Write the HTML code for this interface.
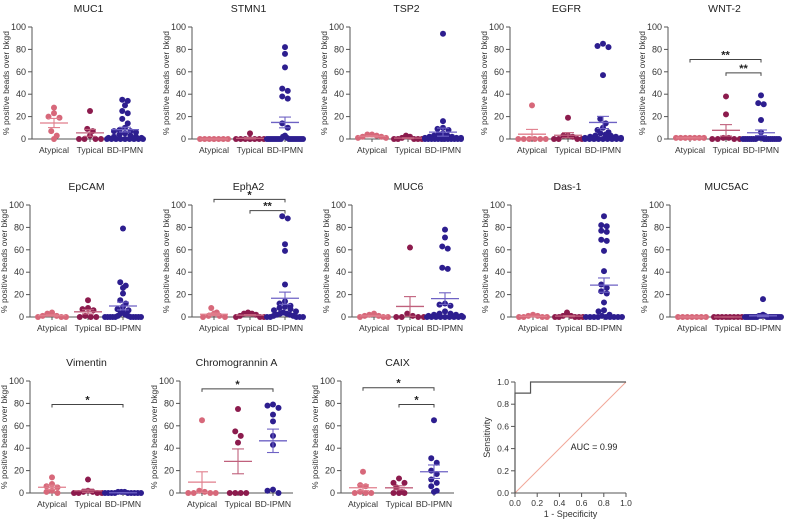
<!DOCTYPE html>
<html><head><meta charset="utf-8">
<style>
html,body{margin:0;padding:0;background:#fff;}
svg{display:block;font-family:"Liberation Sans",sans-serif;}
</style></head>
<body>
<svg id="fig" width="792" height="525" viewBox="0 0 792 525"></svg>
<script>
const categories = ["Atypical","Typical","BD-IPMN"];
const panelTitles = ["MUC1","STMN1","TSP2","EGFR","WNT-2","EpCAM","EphA2","MUC6","Das-1","MUC5AC","Vimentin","Chromogrannin A","CAIX"];
const atypicalVals = [
 [28,23,20,19,7,3,0],
 [0,0,0,0,0,0,0],
 [4,4,3,2,2,1,1],
 [30,0,0,0,0,0,0],
 [1,1,1,1,1,1,1],
 [4,3,1,1,0,0,0],
 [8,4,3,1,1,0,0],
 [3,2,1,1,0,0,0],
 [2,1,1,0,0,0,0],
 [0,0,0,0,0,0,0],
 [14,8,6,5,2,1,0],
 [65,2,1,0,0,0,0],
 [19,7,6,1,0,0,0]
];
const typicalVals = [
 [25,9,7,3,0,0,0,0],
 [5,0,0,0,0,0,0,0],
 [3,2,1,0,0,0,0,0],
 [19,3,3,2,0,0,0,0],
 [38,22,1,1,0,0,0,0],
 [15,8,7,6,1,0,0,0],
 [4,3,3,2,1,0,0,0],
 [62,3,1,0,0,0,0],
 [4,1,1,0,0,0,0,0],
 [0,0,0,0,0,0,0,0],
 [12,2,1,1,0,0,0,0],
 [75,55,51,45,0,0,0,0],
 [13,9,9,5,1,0,0,0]
];
const bdVals = [
 [35,34,30,25,23,18,14,10,8,7,7,6,5,4,3,2,2,1,1,0,0,0,0,0,0,0,0,0],
 [82,76,64,45,43,38,36,14,10,3,2,1,0,0,0,0,0,0,0,0,0,0,0,0,0,0,0,0],
 [94,16,10,9,8,5,4,3,3,2,2,1,1,1,0,0,0,0,0,0,0,0,0,0,0,0],
 [85,83,82,57,18,14,10,8,6,5,4,3,3,2,2,1,1,0,0,0,0,0,0,0,0,0],
 [39,32,31,17,6,1,1,1,0,0,0,0,0,0,0,0,0,0,0,0,0,0,0],
 [79,31,28,26,21,15,12,9,7,6,4,3,2,1,1,0,0,0,0,0,0,0,0,0,0],
 [90,88,65,59,29,14,12,10,9,8,7,6,5,4,3,3,2,2,1,1,0,0,0,0,0],
 [78,71,63,61,44,43,12,11,10,5,3,3,2,2,1,1,0,0,0,0,0,0,0,0,0],
 [90,82,81,77,76,69,68,59,41,29,26,23,21,13,6,5,2,1,0,0,0,0,0,0,0,0,0],
 [16,2,1,1,1,0,0,0,0,0,0,0,0,0,0,0,0,0,0,0],
 [1,1,1,0,0,0,0,0,0,0,0,0],
 [79,78,76,70,64,51,43,3,2,0],
 [65,31,27,20,17,12,9,6,2,1]
];
const sigPanel = [4,4,6,6,10,11,12,12];
const sigFrom  = [0,1,0,1,0,0,0,1];
const sigY     = [71,59,105,95,79,93,94,79];
const sigLabel = ["**","**","*","**","*","*","*","*"];
const yTicks = [0,20,40,60,80,100];
const rocFpr = [0,0,0.14,0.14,1];
const rocTpr = [0,0.9,0.9,1,1];
const rocTicks = [0,0.2,0.4,0.6,0.8,1.0];
const aucText = "AUC =  0.99";

const NS="http://www.w3.org/2000/svg";
const svg=document.getElementById('fig');
function el(tag,attrs,parent,text){const e=document.createElementNS(NS,tag);for(const k in attrs)e.setAttribute(k,attrs[k]);if(text!==undefined)e.textContent=text;(parent||svg).appendChild(e);return e;}
const colors=["#d7687a","#8c1b4d","#2d1e8f"];
const meanColors=["#e07e8c","#c0607c","#6e62c4"];
const axisX=[[32,192,350,510,668],[30,192,352,511,670],[30,180,341]];
const rowTop=[27,205,381], rowBot=[139,317,493];
const W=113;
const catOff=[22,58,93];

function beeswarm(vals,cx,yfn,cap){
  const order=vals.map((v,i)=>i).sort((a,b)=>vals[b]-vals[a]);
  const bins=[];
  for(const i of order){
    const y=yfn(vals[i]);
    const b=bins.find(bb=>Math.abs(bb.y-y)<4.5);
    if(b)b.items.push(y);else bins.push({y:y,items:[y]});
  }
  const out=[];
  for(const b of bins){
    const n=b.items.length;
    const sp=n>1?Math.min(5.5,2*cap/(n-1)):0;
    // assign slots alternating from center so the arrangement is symmetric
    const slots=[];
    for(let k=0;k<n;k++)slots.push((k-(n-1)/2)*sp);
    slots.sort((a,b2)=>Math.abs(a)-Math.abs(b2));
    b.items.forEach((y,k)=>out.push([cx+slots[k],y]));
  }
  return out;
}

let p=0;
for(let row=0;row<3;row++){
 for(let col=0;col<axisX[row].length;col++,p++){
  const g=el('g',{},svg);
  
  
  const x0=axisX[row][col], yT=rowTop[row], yB=rowBot[row];
  const yS=v=>yB-(v/100)*(yB-yT);
  const t=el('text',{x:x0+W/2,y:yT-15,'font-size':10.5,'text-anchor':'middle',fill:'#222'},g,panelTitles[p]);
  
  const ya=el('line',{x1:x0,y1:yT,x2:x0,y2:yB,stroke:'#555','stroke-width':1},g);
  
  const xa=el('line',{x1:x0,y1:yB,x2:x0+W,y2:yB,stroke:'#555','stroke-width':1},g);
  
  for(const tv of yTicks){
    el('line',{x1:x0-4,y1:yS(tv),x2:x0,y2:yS(tv),stroke:'#555'},g);
    const tl=el('text',{x:x0-6,y:yS(tv)+3,'font-size':9,'text-anchor':'end',fill:'#333'},g,String(tv));
    
  }
  const yt=el('text',{x:0,y:0,'font-size':8.5,'text-anchor':'middle',fill:'#333',transform:`translate(${x0-23},${(yT+yB)/2}) rotate(-90)`},g,'% positive beads over bkgd');
  
  const groups=[atypicalVals[p],typicalVals[p],bdVals[p]];
  groups.forEach((vals,c)=>{
    const cx=x0+catOff[c];
    el('line',{x1:cx,y1:yB,x2:cx,y2:yB+3,stroke:'#555'},g);
    const cl=el('text',{x:cx,y:yB+14,'font-size':8.6,'text-anchor':'middle',fill:'#333'},g,categories[c]);
    
    const pts=beeswarm(vals,cx,yS,c===2?18:14);
    for(const q of pts){
      const d=el('circle',{cx:q[0],cy:q[1],r:3,fill:colors[c]},g);
      
      
    }
    const n=vals.length,m=vals.reduce((a,b)=>a+b,0)/n;
    const sd=Math.sqrt(vals.reduce((a,b)=>a+(b-m)*(b-m),0)/(n-1));const se=sd/Math.sqrt(n);
    const ml=el('line',{x1:cx-14,y1:yS(m),x2:cx+14,y2:yS(m),stroke:meanColors[c],'stroke-width':1.3},g);
    
    el('line',{x1:cx,y1:yS(m+se),x2:cx,y2:yS(Math.max(0,m-se)),stroke:meanColors[c],'stroke-width':1.1},g);
    el('line',{x1:cx-6,y1:yS(m+se),x2:cx+6,y2:yS(m+se),stroke:meanColors[c],'stroke-width':1.1},g);
    el('line',{x1:cx-6,y1:yS(m-se),x2:cx+6,y2:yS(m-se),stroke:meanColors[c],'stroke-width':1.1},g);
  });
  sigPanel.forEach((sp,i)=>{
    if(sp!==p)return;
    const xa1=x0+catOff[sigFrom[i]],xa2=x0+catOff[2],y=yS(sigY[i]);
    const sb=el('path',{d:`M${xa1},${y+3}V${y}H${xa2}V${y+3}`,stroke:'#444',fill:'none','stroke-width':1},g);
    
    const st=el('text',{x:(xa1+xa2)/2,y:y-1,'font-size':11,'font-weight':'bold','text-anchor':'middle',fill:'#222'},g,sigLabel[i]);
    
  });
 }
}
const rg=el('g',{},svg);


const rx0=515,rx1=626,ry0=382,ry1=493;
const rX=v=>rx0+v*(rx1-rx0), rY=v=>ry1-v*(ry1-ry0);
const diag=el('line',{x1:rX(0),y1:rY(0),x2:rX(1),y2:rY(1),stroke:'#f2a898','stroke-width':1},rg);

const rp=el('path',{d:rocFpr.map((f,i)=>(i?'L':'M')+rX(f)+','+rY(rocTpr[i])).join(''),stroke:'#555',fill:'none','stroke-width':1.2},rg);

el('line',{x1:rx0,y1:ry0,x2:rx0,y2:ry1,stroke:'#555'},rg);
el('line',{x1:rx0,y1:ry1,x2:rx1,y2:ry1,stroke:'#555'},rg);
for(const tv of rocTicks){
  el('line',{x1:rx0-4,y1:rY(tv),x2:rx0,y2:rY(tv),stroke:'#555'},rg);
  const a=el('text',{x:rx0-6,y:rY(tv)+3,'font-size':8.5,'text-anchor':'end',fill:'#333'},rg,tv.toFixed(1));
  
  el('line',{x1:rX(tv),y1:ry1,x2:rX(tv),y2:ry1+4,stroke:'#555'},rg);
  const b=el('text',{x:rX(tv),y:ry1+13,'font-size':8.5,'text-anchor':'middle',fill:'#333'},rg,tv.toFixed(1));
  
}
const xt=el('text',{x:(rx0+rx1)/2,y:517,'font-size':9,'text-anchor':'middle',fill:'#333'},rg,'1 - Specificity');

const ytt=el('text',{x:0,y:0,'font-size':9,'text-anchor':'middle',fill:'#333',transform:`translate(${rx0-25},${(ry0+ry1)/2}) rotate(-90)`},rg,'Sensitivity');

const au=el('text',{x:594,y:450,'font-size':9,'text-anchor':'middle',fill:'#222'},rg,aucText);

</script>
</body></html>
